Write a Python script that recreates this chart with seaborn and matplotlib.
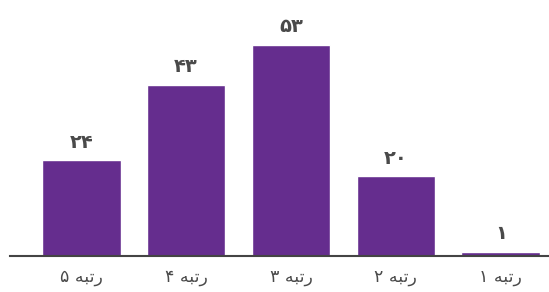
import matplotlib
matplotlib.use("Agg")
import matplotlib.pyplot as plt
import seaborn as sns
import pandas as pd

# data (left to right as drawn)
ranks = ['رتبه ۵', 'رتبه ۴', 'رتبه ۳', 'رتبه ۲', 'رتبه ۱']
counts = [24, 43, 53, 20, 1]
count_labels = ['۲۴', '۴۳', '۵۳', '۲۰', '۱']

bar_color = '#652d8e'
text_color = '#4a4a4a'

# matplotlib has no arabic shaping, so build the presentation forms by hand
# forms: (isolated, final, initial, medial)
forms = {
    'ر': ('\uFEAD', '\uFEAE', None, None),
    'ت': ('\uFE95', '\uFE96', '\uFE97', '\uFE98'),
    'ب': ('\uFE8F', '\uFE90', '\uFE91', '\uFE92'),
    'ه': ('\uFEE9', '\uFEEA', '\uFEEB', '\uFEEC'),
}


def shape_word(word):
    if not any(c in forms for c in word):
        return word
    out = []
    for i, c in enumerate(word):
        f = forms[c]
        prev_joins = i > 0 and forms[word[i - 1]][2] is not None
        next_joins = i < len(word) - 1 and f[2] is not None
        if prev_joins and next_joins:
            out.append(f[3])
        elif prev_joins:
            out.append(f[1])
        elif next_joins:
            out.append(f[2])
        else:
            out.append(f[0])
    return ''.join(reversed(out))


def shape(text):
    return ' '.join(shape_word(w) for w in reversed(text.split(' ')))


df = pd.DataFrame({'rank': [shape(r) for r in ranks], 'count': counts})

sns.set_style('white')
plt.rcParams['font.family'] = ['DejaVu Sans']

fig = plt.figure(figsize=(5.49, 2.92), dpi=100)
ax = fig.add_axes([10 / 549, 36 / 292, 1 - 10 / 549, 256 / 292])

sns.barplot(data=df, x='rank', y='count', color=bar_color, width=0.75,
            saturation=1, ax=ax)

for i, (v, lab) in enumerate(zip(counts, count_labels)):
    ax.text(i, v + 2.2, lab, ha='center', va='bottom', fontsize=14,
            fontweight='bold', color=text_color)

ax.set_xlim(-0.68, 4.46)
ax.set_ylim(0, 64.3)
ax.set_xlabel('')
ax.set_ylabel('')
ax.set_yticks([])
for s in ['top', 'right', 'left']:
    ax.spines[s].set_visible(False)
ax.spines['bottom'].set_color('#444444')
ax.spines['bottom'].set_linewidth(1.5)
ax.tick_params(axis='x', length=0, pad=9, labelsize=12.5, labelcolor=text_color)

fig.savefig('out.png', dpi=100)
